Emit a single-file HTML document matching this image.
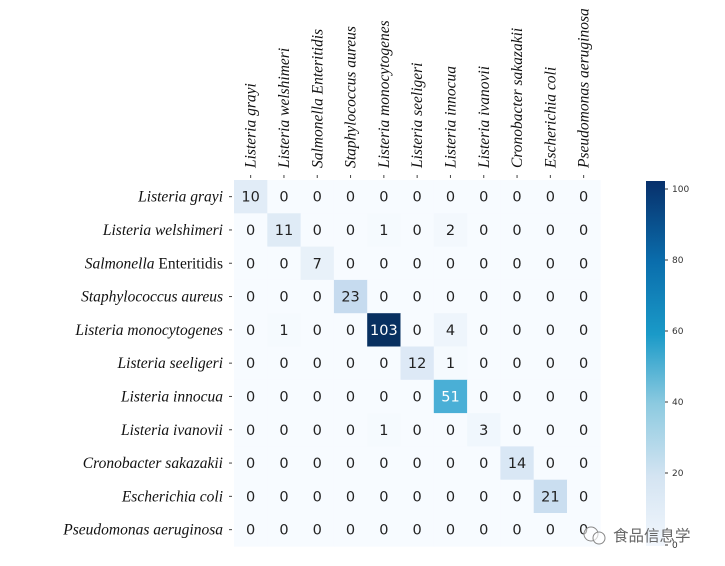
<!DOCTYPE html>
<html><head><meta charset="utf-8"><style>
html,body{margin:0;padding:0;background:#fff;}
svg{display:block;}
.rl{font-family:"Liberation Serif",serif;font-style:italic;font-size:15.5px;fill:#111;}
.cl{font-family:"Liberation Serif",serif;font-style:italic;font-size:15.5px;fill:#111;}
.n{font-family:"DejaVu Sans","Liberation Sans",sans-serif;font-size:14.5px;text-anchor:middle;}
.cb{font-family:"DejaVu Sans",sans-serif;font-size:9px;fill:#333;}
</style></head><body>
<svg width="725" height="566" xmlns="http://www.w3.org/2000/svg">
<defs><linearGradient id="g" x1="0" y1="1" x2="0" y2="0">
<stop offset="0" stop-color="#f2f7fd"/>
<stop offset="0.19" stop-color="#d4e4f2"/>
<stop offset="0.39" stop-color="#8ccae0"/>
<stop offset="0.58" stop-color="#1a9ac8"/>
<stop offset="0.78" stop-color="#0a6dac"/>
<stop offset="1" stop-color="#08306b"/>
</linearGradient></defs>
<g id="cells"></g>
<rect x="646" y="181" width="19" height="365" fill="url(#g)"/>
<g class="cb">
<line x1="665" y1="189" x2="668" y2="189" stroke="#333"/><text x="672" y="192">100</text>
<line x1="665" y1="260" x2="668" y2="260" stroke="#333"/><text x="672" y="263">80</text>
<line x1="665" y1="331" x2="668" y2="331" stroke="#333"/><text x="672" y="334">60</text>
<line x1="665" y1="402" x2="668" y2="402" stroke="#333"/><text x="672" y="405">40</text>
<line x1="665" y1="473" x2="668" y2="473" stroke="#333"/><text x="672" y="476">20</text>
<line x1="665" y1="545" x2="668" y2="545" stroke="#333"/><text x="672" y="548">0</text>
</g>
<circle cx="591" cy="534" r="7" fill="#fff" fill-opacity="0.6" stroke="#888"/><circle cx="599" cy="538" r="6" fill="#fff" fill-opacity="0.6" stroke="#888"/>
<text x="613" y="541" style="font-family:'Noto Sans CJK SC',sans-serif;font-size:15.5px;fill:#666">食品信息学</text>
</svg>
<script>
var M=[[10,0,0,0,0,0,0,0,0,0,0],[0,11,0,0,1,0,2,0,0,0,0],[0,0,7,0,0,0,0,0,0,0,0],[0,0,0,23,0,0,0,0,0,0,0],[0,1,0,0,103,0,4,0,0,0,0],[0,0,0,0,0,12,1,0,0,0,0],[0,0,0,0,0,0,51,0,0,0,0],[0,0,0,0,1,0,0,3,0,0,0],[0,0,0,0,0,0,0,0,14,0,0],[0,0,0,0,0,0,0,0,0,21,0],[0,0,0,0,0,0,0,0,0,0,0]];
var names=["Listeria grayi","Listeria welshimeri","Salmonella Enteritidis","Staphylococcus aureus","Listeria monocytogenes","Listeria seeligeri","Listeria innocua","Listeria ivanovii","Cronobacter sakazakii","Escherichia coli","Pseudomonas aeruginosa"];
var stops=[[0,[247,251,255]],[10,[225,236,247]],[23,[198,219,239]],[40,[141,202,224]],[51,[74,175,214]],[62,[26,154,200]],[82,[10,109,172]],[103,[8,48,96]]];
function col(v){for(var i=1;i<stops.length;i++){if(v<=stops[i][0]){var a=stops[i-1],b=stops[i],t=(v-a[0])/(b[0]-a[0]);return "rgb("+[0,1,2].map(function(k){return Math.round(a[1][k]+t*(b[1][k]-a[1][k]))}).join(",")+")";}}}
var NS="http://www.w3.org/2000/svg",svg=document.querySelector("svg"),g=document.getElementById("cells");
function el(t,a,p,txt){var e=document.createElementNS(NS,t);for(var k in a)e.setAttribute(k,a[k]);if(txt!=null)e.textContent=txt;(p||g).appendChild(e);return e;}
var x0=234,y0=180,w=33.3,h=33.3;
for(var r=0;r<11;r++)for(var c=0;c<11;c++){var v=M[r][c];
el("rect",{x:x0+c*w,y:y0+r*h,width:w+0.4,height:h+0.4,fill:col(v)});
el("text",{x:x0+c*w+w/2,y:y0+r*h+h/2+5,"class":"n",fill:v>45?"#fff":"#222"},null,v);}
for(var i=0;i<11;i++){var cy=y0+i*h+h/2,cx=x0+i*w+w/2;
el("line",{x1:229,y1:cy,x2:232,y2:cy,stroke:"#444"});
el("line",{x1:cx,y1:175,x2:cx,y2:178,stroke:"#444"});
var t=el("text",{x:223,y:cy+5,"class":"rl","text-anchor":"end"});
if(i==2){el("tspan",{},t,"Salmonella ");el("tspan",{"font-style":"normal"},t,"Enteritidis");}else t.textContent=names[i];
el("text",{x:0,y:0,"class":"cl",transform:"translate("+(cx+5)+",168) rotate(-90)"},null,names[i]);}
</script>
</body></html>
